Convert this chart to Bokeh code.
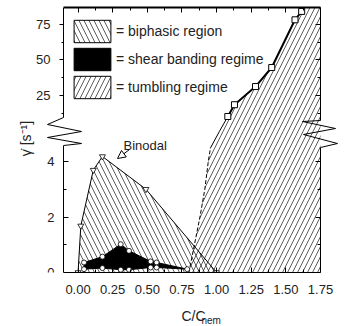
import math
from bokeh.plotting import figure
from bokeh.models import (Range1d, FixedTicker, LinearAxis, Label, Arrow, NormalHead,
                          Legend, LegendItem, ColumnDataSource)
from bokeh.embed import file_html
from bokeh.resources import INLINE

FONT = "Liberation Sans"

# ---------------- data ----------------
x_ticks = [0.0, 0.25, 0.5, 0.75, 1.0, 1.25, 1.5, 1.75]
x_tick_labels = ["0.00", "0.25", "0.50", "0.75", "1.00", "1.25", "1.50", "1.75"]
x_minor = [0.125, 0.375, 0.625, 0.875, 1.125, 1.375, 1.625]
low_ticks = [0, 2, 4]
low_minor = [1, 3]
up_ticks = [25, 50, 75]
up_minor = [12.5, 37.5, 62.5]

# binodal (boundary of biphasic region), lower scale
binodal_x = [0.0, 0.02, 0.11, 0.176, 0.49, 1.0]
binodal_y = [0.0, 1.68, 3.69, 4.18, 3.0, 0.0]

# shear banding regime (upper and lower boundaries)
sb_top_x = [0.043, 0.176, 0.308, 0.368, 0.524, 0.567, 0.788]
sb_top_y = [0.36, 0.57, 1.02, 0.78, 0.40, 0.36, 0.12]
sb_bot_x = [0.043, 0.176, 0.308, 0.368, 0.524, 0.567]
sb_bot_y = [0.12, 0.16, 0.10, 0.10, 0.18, 0.18]

# tumbling regime boundary: lower (dashed) part and upper part (squares)
tumb_low_x = [0.80, 0.84, 0.88, 0.915, 0.94, 0.956]
tumb_low_y = [0.0, 1.0, 2.0, 3.0, 4.0, 4.49]
tumb_up_x = [1.081, 1.129, 1.281, 1.398, 1.566, 1.614]
tumb_up_y = [10.2, 18.5, 31.3, 44.7, 78.3, 84.2]
tumb_cross_x = 1.02      # where the boundary crosses the axis break
tumb_cross_up = -0.35    # same point on the upper scale

legend_labels = ["= biphasic region", "= shear banding regime", "= tumbling regime"]

# ---------------- geometry (page pixels) ----------------
W, H = 346, 326
X_BOX = (-0.105, 1.75)                 # x extent of the plot box
BOX_L, BOX_R, BOX_T, BOX_B = 63, 320, 7, 272
PX_PER_X = (BOX_R - BOX_L) / (X_BOX[1] - X_BOX[0])
X_VIEW = (X_BOX[0] - BOX_L / PX_PER_X, X_BOX[1] + (W - BOX_R) / PX_PER_X)
LOW_RANGE = (0.0, 9.55)
UP_RANGE = (-99.65, 86.97)


def px2x(px):
    return X_VIEW[0] + px / PX_PER_X


def py2low(py):
    return LOW_RANGE[1] - (py - BOX_T) / (BOX_B - BOX_T) * (LOW_RANGE[1] - LOW_RANGE[0])


def py2up(py):
    return UP_RANGE[1] - (py - BOX_T) / (BOX_B - BOX_T) * (UP_RANGE[1] - UP_RANGE[0])


def up2low(v):
    return LOW_RANGE[0] + (v - UP_RANGE[0]) / (UP_RANGE[1] - UP_RANGE[0]) * (LOW_RANGE[1] - LOW_RANGE[0])


cross_low = up2low(tumb_cross_up)

p = figure(width=W, height=H,
           x_range=Range1d(*X_VIEW), y_range=Range1d(*LOW_RANGE),
           output_backend="svg", toolbar_location=None, y_axis_location=None,
           min_border_left=0, min_border_right=0,
           min_border_top=BOX_T, min_border_bottom=H - BOX_B)
p.extra_y_ranges = {"up": Range1d(*UP_RANGE)}
p.grid.visible = False
p.outline_line_color = None

HATCH = dict(hatch_color="black", hatch_alpha=0.8, hatch_weight=0.8, hatch_scale=10)

# tumbling regime (hatched /), lower and upper parts
p.patch(tumb_low_x + [tumb_cross_x, X_BOX[1], X_BOX[1]],
        tumb_low_y + [cross_low, cross_low, 0.0],
        fill_color=None, line_color=None, hatch_pattern="/", **HATCH)
p.patch([tumb_cross_x] + tumb_up_x + [tumb_up_x[-1], X_BOX[1], X_BOX[1]],
        [tumb_cross_up] + tumb_up_y + [UP_RANGE[1], UP_RANGE[1], tumb_cross_up],
        y_range_name="up", fill_color=None, line_color=None, hatch_pattern="/", **HATCH)

# biphasic region (hatched \)
bi = p.patch(binodal_x, binodal_y, fill_color=None, line_color="black", line_width=1,
             hatch_pattern="\\", **HATCH)

# shear banding regime (black)
sb = p.patch(sb_top_x + sb_bot_x[::-1], sb_top_y + sb_bot_y[::-1],
             fill_color="black", line_color="black", line_width=1)

# tumbling boundary lines
p.line(tumb_low_x, tumb_low_y, line_color="black", line_width=1, line_dash="4 2")
p.line([tumb_low_x[-1], tumb_cross_x], [tumb_low_y[-1], cross_low], line_color="black", line_width=1)
p.line([tumb_cross_x, tumb_up_x[0]], [tumb_cross_up, tumb_up_y[0]], y_range_name="up",
       line_color="black", line_width=1)
p.line(tumb_up_x, tumb_up_y, y_range_name="up", line_color="black", line_width=2)

# markers
p.scatter(binodal_x, binodal_y, marker="inverted_triangle", size=6,
          fill_color="white", line_color="black", line_width=0.8)
p.scatter(sb_top_x + sb_bot_x, sb_top_y + sb_bot_y, marker="circle", size=5,
          fill_color="white", line_color="black", line_width=0.8)
p.scatter(tumb_up_x, tumb_up_y, y_range_name="up", marker="square", size=6,
          fill_color="white", line_color="black", line_width=1)

# hidden renderer that only provides the legend swatch of the tumbling regime
tu_leg = p.patch(tumb_low_x + [X_BOX[1]], tumb_low_y + [0.0], fill_color=None,
                 line_color="black", line_width=1, hatch_pattern="/", visible=False, **HATCH)

# ---------------- axes ----------------
LBL = dict(major_label_text_font=FONT, major_label_text_font_size="13px",
           major_label_text_color="#222222")
HIDE = dict(major_label_text_font_size="1px", major_label_text_color=None, major_label_standoff=0)
INT = dict(major_tick_in=5, major_tick_out=0, minor_tick_in=3, minor_tick_out=0,
           axis_line_color="black", major_tick_line_color="black", minor_tick_line_color="black")
OUT = dict(major_tick_in=0, major_tick_out=4, minor_tick_in=0, minor_tick_out=2,
           axis_line_color="black", major_tick_line_color="black", minor_tick_line_color="black")

xa = p.below[0]
xa.ticker = FixedTicker(ticks=x_ticks, minor_ticks=x_minor)
xa.major_label_overrides = {t: l for t, l in zip(x_ticks, x_tick_labels)}
xa.major_label_standoff = 12
xa.bounds = X_BOX
xa.update(**LBL, **INT)

xt = LinearAxis(ticker=FixedTicker(ticks=x_ticks, minor_ticks=x_minor), bounds=X_BOX,
                **HIDE, **INT)
xt.axis_line_width = 2
p.add_layout(xt, "above")

# left: lower part (inner ticks) and upper part (outer ticks), broken in between
yl_low = LinearAxis(fixed_location=X_BOX[0], ticker=FixedTicker(ticks=low_ticks, minor_ticks=low_minor),
                    bounds=(0, py2low(145)), major_label_standoff=9, **LBL, **INT)
p.add_layout(yl_low, "left")
yl_up = LinearAxis(y_range_name="up", fixed_location=X_BOX[0],
                   ticker=FixedTicker(ticks=up_ticks, minor_ticks=up_minor),
                   bounds=(py2up(117), UP_RANGE[1]), major_label_standoff=9, **LBL, **OUT)
p.add_layout(yl_up, "left")

# right: mirror ticks, no labels
yr_low = LinearAxis(fixed_location=X_BOX[1], ticker=FixedTicker(ticks=low_ticks, minor_ticks=low_minor),
                    bounds=(0, py2low(147)), **HIDE, **INT)
p.add_layout(yr_low, "right")
yr_up = LinearAxis(y_range_name="up", fixed_location=X_BOX[1],
                   ticker=FixedTicker(ticks=up_ticks, minor_ticks=up_minor),
                   bounds=(py2up(120), UP_RANGE[1]), **HIDE, **INT)
p.add_layout(yr_up, "right")

# ---------------- axis-break zigzags (page pixels) ----------------
left_zz = [(63, 117), (47, 124), (81, 131), (47, 137), (81, 143), (63, 145)]
right_zz = [(320, 120), (302, 121), (335, 128), (303, 134), (337, 143), (320, 147)]
for pts in (left_zz, right_zz):
    src = ColumnDataSource(dict(
        x0=[px2x(a[0]) for a in pts[:-1]], y0=[py2low(a[1]) for a in pts[:-1]],
        x1=[px2x(a[0]) for a in pts[1:]], y1=[py2low(a[1]) for a in pts[1:]]))
    p.add_layout(Arrow(end=None, source=src, x_start="x0", y_start="y0",
                       x_end="x1", y_end="y1", line_color="black", line_width=1))

# ---------------- texts ----------------
p.add_layout(Label(x=px2x(25), y=py2low(138), text="γ̇ [s⁻¹]", angle=math.pi / 2,
                   text_align="center", text_baseline="middle", text_font=FONT,
                   text_font_size="14px", text_color="#222222"))
p.add_layout(Label(x=px2x(181), y=py2low(315), text="C/C", text_font=FONT,
                   text_font_size="14px", text_color="#222222", text_baseline="alphabetic"), "below")
p.add_layout(Label(x=px2x(201), y=py2low(320), text="nem", text_font=FONT,
                   text_font_size="10px", text_color="#222222", text_baseline="alphabetic"), "below")
p.add_layout(Label(x=px2x(123), y=py2low(145), text="Binodal", text_font=FONT,
                   text_font_size="13px", text_color="#222222", text_baseline="alphabetic"))
p.add_layout(Arrow(end=NormalHead(size=8, line_width=1, line_color="black", fill_color="white"),
                   x_start=px2x(129), y_start=py2low(149), x_end=px2x(117), y_end=py2low(158),
                   line_color="black", line_width=1))

# ---------------- legend ----------------
legend = Legend(items=[LegendItem(label=legend_labels[0], renderers=[bi]),
                       LegendItem(label=legend_labels[1], renderers=[sb]),
                       LegendItem(label=legend_labels[2], renderers=[tu_leg])],
                location=(69, (BOX_B - BOX_T) - 10 - 84),
                glyph_width=46, glyph_height=28, spacing=0,
                padding=0, margin=0, label_standoff=1, label_text_font=FONT,
                label_text_font_size="14px", label_text_color="#222222",
                border_line_color=None, background_fill_alpha=0)
p.add_layout(legend)

open("out.html", "w").write(file_html(p, INLINE))
